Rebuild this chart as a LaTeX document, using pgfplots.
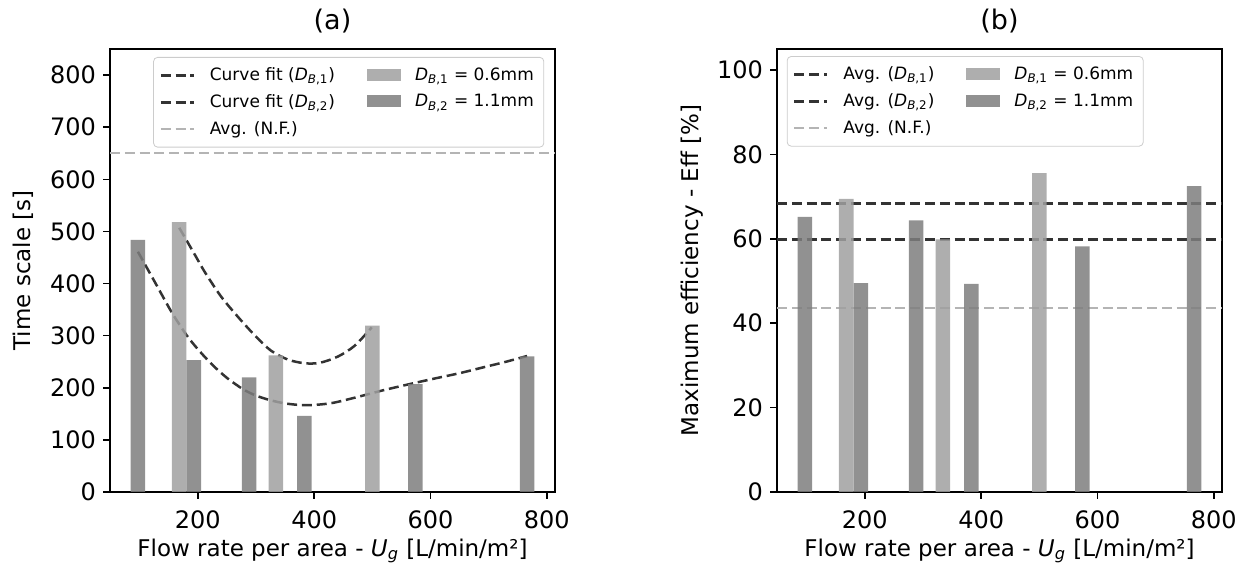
\documentclass[border=0pt]{standalone}
\usepackage{pgfplots}
\pgfplotsset{compat=1.18}
\usepackage{fontspec}
\setmainfont{DejaVu Sans}
\definecolor{barA}{HTML}{A0A0A0}
\definecolor{barB}{HTML}{7E7E7E}
\definecolor{fitc}{HTML}{333333}
\definecolor{nfc}{HTML}{B4B4B4}
\pgfplotsset{
  common/.style={
    scale only axis, width=222.5pt, height=221.5pt,
    xmin=49, xmax=814, ymin=0,
    xtick pos=bottom, ytick pos=left,
    tick align=outside, major tick length=3.5pt,
    every tick/.style={black, line width=0.8pt},
    axis line style={line width=0.8pt},
    xtick={200,400,600,800},
    ticklabel style={font=\fontsize{12}{14}\selectfont},
    xticklabel style={yshift=-2.5pt},
    label style={font=\fontsize{11.5}{14}\selectfont},
    title style={font=\fontsize{13.5}{16}\selectfont, at={(0.5,1)}, anchor=south, yshift=-1.5pt},
    /pgf/number format/assume math mode=true,
    scaled ticks=false,
    xlabel={Flow rate per area - \textit{U}\textsubscript{\textit{g}} [L/min/m²]},
    xlabel style={at={(axis description cs:0.5,-0.133)}, anchor=center},
    legend columns=2,
    legend cell align=left,
    legend style={draw=black!20, fill=white, rounded corners=2pt,
      font=\fontsize{8.5}{10}\selectfont, inner xsep=3pt, inner ysep=3pt,
      row sep=1.5pt,
      /tikz/every even column/.append style={column sep=14pt}},
  },
  barlegend/.style={legend image code/.code={\path[##1, draw=none, sharp corners] (0pt,-2.6pt) rectangle (17pt,3.4pt); \path[draw=none, fill=none] (0pt,0pt) -- (22pt,0pt);}},
  linelegend/.style={legend image code/.code={\draw[##1, sharp corners] (0pt,0pt) -- (16.5pt,0pt); \path[draw=none, fill=none] (0pt,0pt) -- (22.5pt,0pt);}},
  fitline/.style={fitc, line width=1.25pt, dash pattern=on 5pt off 2.4pt},
  nfline/.style={nfc, line width=1.25pt, dash pattern=on 5pt off 2.4pt},
  bars/.style={ybar, bar width=25, bar shift=0pt, draw=none, fill opacity=0.85},
}
\begin{document}
\begin{tikzpicture}
% ---------------- (a) ----------------
\begin{axis}[common, at={(55pt,39.5pt)}, anchor=south west,
  ymax=850, ytick={0,100,...,800},
  title={(a)},
  ylabel={Time scale [s]},
  ylabel style={at={(axis description cs:-0.196,0.5)}, anchor=center},
  legend style={at={(axis description cs:0.097,0.982)}, anchor=north west},
]
\addlegendimage{linelegend, fitline}
\addlegendentry{Curve fit (\textit{D}\textsubscript{\textit{B},1})}
\addlegendimage{barlegend, fill=barA, fill opacity=0.85}
\addlegendentry{\textit{D}\textsubscript{\textit{B},1} = 0.6mm}
\addlegendimage{linelegend, fitline}
\addlegendentry{Curve fit (\textit{D}\textsubscript{\textit{B},2})}
\addlegendimage{barlegend, fill=barB, fill opacity=0.85}
\addlegendentry{\textit{D}\textsubscript{\textit{B},2} = 1.1mm}
\addlegendimage{linelegend, nfline}
\addlegendentry{Avg. (N.F.)}
% average N.F.
\addplot[nfline, forget plot] coordinates {(49,650) (814,650)};
% curve fit D_B,1
\addplot[fitline, smooth, forget plot] coordinates {
(168,507) (180,484) (195,455) (212,422) (240,375) (269,336) (300,298)
(326,271) (355,254) (384,247) (410,248) (441,260) (470,281) (499,316)};
% curve fit D_B,2
\addplot[fitline, smooth, forget plot] coordinates {
(97,461) (115,425) (130,395) (155,345) (180,302) (200,274) (225,244)
(250,219) (278,197) (300,185) (325,176) (350,170) (375,167) (400,167)
(432,171) (470,181) (518,195) (560,206) (604,217) (650,228) (690,239)
(730,250) (766,261)};
% bars D_B,2
\addplot[bars, fill=barB, forget plot] coordinates {
(97,484) (193,253) (288,220) (383,146) (574,207) (766,260)};
% bars D_B,1
\addplot[bars, fill=barA, forget plot] coordinates {
(168,518) (334,262) (500,319)};
\end{axis}
% ---------------- (b) ----------------
\begin{axis}[common, at={(388.5pt,39.5pt)}, anchor=south west,
  ymax=105, ytick={0,20,...,100},
  title={(b)},
  ylabel={Maximum efficiency - Eff [\%]},
  ylabel style={at={(axis description cs:-0.19,0.5)}, anchor=center},
  legend style={at={(axis description cs:0.022,0.984)}, anchor=north west},
]
\addlegendimage{linelegend, fitline}
\addlegendentry{Avg. (\textit{D}\textsubscript{\textit{B},1})}
\addlegendimage{barlegend, fill=barA, fill opacity=0.85}
\addlegendentry{\textit{D}\textsubscript{\textit{B},1} = 0.6mm}
\addlegendimage{linelegend, fitline}
\addlegendentry{Avg. (\textit{D}\textsubscript{\textit{B},2})}
\addlegendimage{barlegend, fill=barB, fill opacity=0.85}
\addlegendentry{\textit{D}\textsubscript{\textit{B},2} = 1.1mm}
\addlegendimage{linelegend, nfline}
\addlegendentry{Avg. (N.F.)}
\addplot[fitline, forget plot] coordinates {(49,68.4) (814,68.4)};
\addplot[fitline, forget plot] coordinates {(49,59.9) (814,59.9)};
\addplot[nfline, forget plot] coordinates {(49,43.6) (814,43.6)};
\addplot[bars, fill=barB, forget plot] coordinates {
(97,65.2) (193,49.5) (288,64.4) (383,49.3) (574,58.2) (766,72.5)};
\addplot[bars, fill=barA, forget plot] coordinates {
(168,69.5) (334,59.9) (500,75.6)};
\end{axis}
\pgfresetboundingbox
\path (0,0) rectangle (624pt,285.5pt);
\end{tikzpicture}
\end{document}
